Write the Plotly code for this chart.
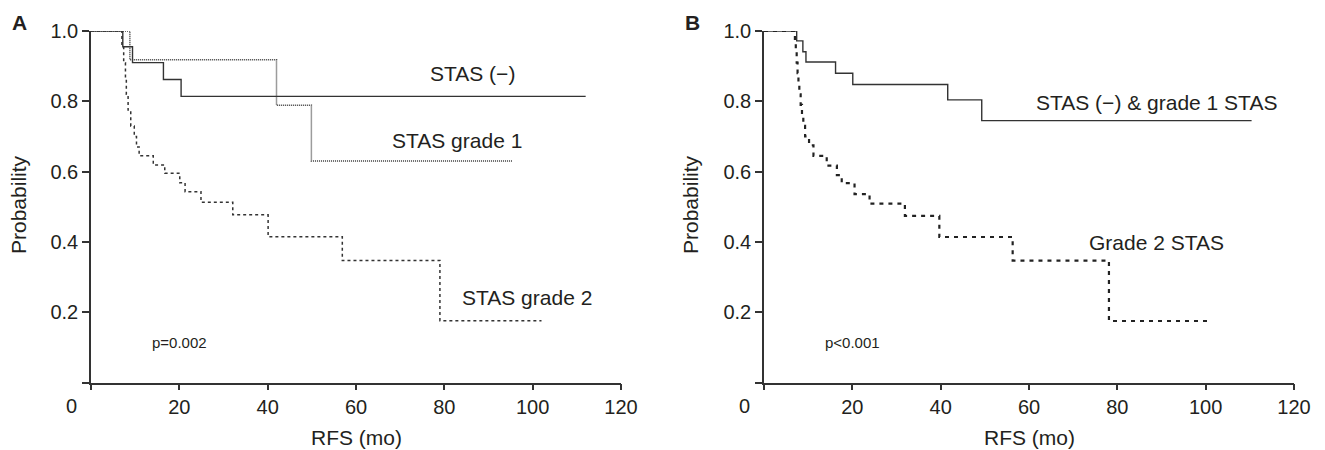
import plotly.graph_objects as go

# ---------------- data ----------------
# Panel A
a_neg_t = [0, 7.2, 9.4, 16.4, 20.4, 112.0]
a_neg_s = [1.0, 0.955, 0.91, 0.862, 0.814, 0.814]

a_g1_t = [0, 8.8, 42.0, 49.9, 95.5]
a_g1_s = [1.0, 0.918, 0.789, 0.630, 0.630]

a_g2_t = [0, 7.0, 7.4, 7.8, 8.0, 8.4, 9.0, 9.8, 10.3, 10.9, 14.1, 16.7, 20.1, 21.3,
          24.9, 32.1, 40.1, 56.9, 79.0, 102.0]
a_g2_s = [1.0, 0.955, 0.91, 0.865, 0.82, 0.775, 0.73, 0.70, 0.67, 0.645, 0.619, 0.595,
          0.568, 0.543, 0.513, 0.477, 0.415, 0.347, 0.176, 0.176]

# Panel B
b_neg_t = [0, 7.4, 8.8, 9.5, 16.2, 20.1, 41.6, 49.3, 110.4]
b_neg_s = [1.0, 0.972, 0.941, 0.912, 0.880, 0.848, 0.804, 0.745, 0.745]

b_g2_t = [0, 7.0, 7.2, 7.4, 7.6, 7.8, 8.0, 8.3, 8.6, 8.9, 9.3, 10.2, 11.2, 14.2, 16.5,
          17.6, 20.5, 23.9, 31.9, 39.7, 56.3, 78.1, 100.4]
b_g2_s = [1.0, 0.97, 0.94, 0.91, 0.88, 0.85, 0.82, 0.79, 0.76, 0.73, 0.70, 0.675, 0.645,
          0.617, 0.590, 0.567, 0.536, 0.509, 0.474, 0.414, 0.347, 0.175, 0.175]

x_ticks = [0, 20, 40, 60, 80, 100, 120]
y_ticks = [0, 0.2, 0.4, 0.6, 0.8, 1.0]
y_tick_text = ["", "0.2", "0.4", "0.6", "0.8", "1.0"]
x_tick_text = ["", "20", "40", "60", "80", "100", "120"]

# ---------------- figure ----------------
# the page body has an 8px margin, so the figure is offset by it and all
# positions (given in window pixels) are shifted accordingly
OFF = 8
W, H = 1325 - 2 * OFF, 450 - OFF
FONT = "Arial, Liberation Sans, Helvetica, sans-serif"
TXT = "#231f20"
LINE = "#333333"

def px(x):
    return (x - OFF) / W

def py(y):
    return 1 - (y - OFF) / H

fig = go.Figure()

def add(t, s, xa, ya, dash, width, color=LINE):
    fig.add_trace(go.Scatter(x=t, y=s, mode="lines", line_shape="hv",
                             line=dict(color=color, width=width, dash=dash),
                             xaxis=xa, yaxis=ya, showlegend=False, hoverinfo="skip",
                             cliponaxis=False))

add(a_neg_t, a_neg_s, "x", "y", "solid", 1.4)
add(a_g1_t, a_g1_s, "x", "y", "1px,1px", 1.5, "#3a3a3a")
add(a_g2_t, a_g2_s, "x", "y", "3px,3px", 1.5)

add(b_neg_t, b_neg_s, "x2", "y2", "solid", 1.4)
add(b_g2_t, b_g2_s, "x2", "y2", "4px,5px", 2.2, "#222222")

TICKSIZE = 20
ax_common = dict(showline=True, linecolor=LINE, linewidth=1.5, ticks="outside",
                 tickcolor=LINE, tickwidth=1.5, showgrid=False, zeroline=False,
                 automargin=False,
                 tickfont=dict(family=FONT, size=TICKSIZE, color=TXT), fixedrange=True)

y_bot, y_top = py(382.5), py(31)

fig.update_layout(
    template="none",
    width=W, height=H,
    margin=dict(l=0, r=0, t=0, b=0, autoexpand=False),
    paper_bgcolor="white", plot_bgcolor="white",
    xaxis=dict(domain=[px(91), px(621)], range=[0, 120], tickvals=x_ticks,
               ticktext=x_tick_text, ticklen=6, anchor="y", **ax_common),
    yaxis=dict(domain=[y_bot, y_top], range=[0, 1], tickvals=y_ticks,
               ticktext=y_tick_text, ticklen=7, anchor="x", **ax_common),
    xaxis2=dict(domain=[px(764), px(1294)], range=[0, 120], tickvals=x_ticks,
                ticktext=x_tick_text, ticklen=6, anchor="y2", **ax_common),
    yaxis2=dict(domain=[y_bot, y_top], range=[0, 1], tickvals=y_ticks,
                ticktext=y_tick_text, ticklen=7, anchor="x2", **ax_common),
)

def ann(text, x, y, size=21, bold=False, angle=0, xanchor="center", yanchor="middle"):
    fig.add_annotation(x=px(x), y=py(y), xref="paper", yref="paper", text=text,
                       showarrow=False, textangle=angle, xanchor=xanchor, yanchor=yanchor,
                       font=dict(family=FONT, size=size, color=TXT,
                                 weight="bold" if bold else "normal"))

# panel letters
ann("A", 19, 23, size=21, bold=True)
ann("B", 692, 23, size=21, bold=True)

# x "0" labels offset left
ann("0", 71, 406, size=TICKSIZE)
ann("0", 744, 406, size=TICKSIZE)

# axis titles
ann("Probability", 18, 205, size=21, angle=-90)
ann("Probability", 690, 205, size=21, angle=-90)
ann("RFS (mo)", 356, 437)
ann("RFS (mo)", 1029, 437)

# curve labels A
ann("STAS (\u2212)", 472, 73)
ann("STAS grade 1", 457, 140)
ann("STAS grade 2", 527, 297)
ann("p=0.002", 179, 342, size=15)

# curve labels B
ann("STAS (\u2212) & grade 1 STAS", 1156, 102)
ann("Grade 2 STAS", 1156, 242)
ann("p<0.001", 853, 342, size=15)

fig.write_html("out.html")
